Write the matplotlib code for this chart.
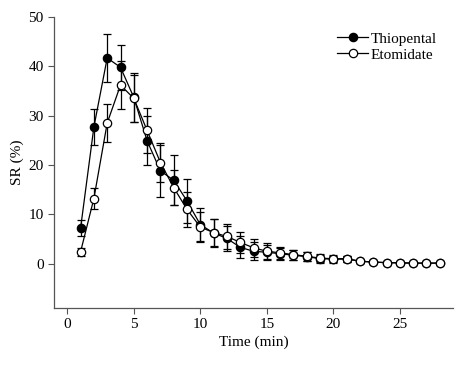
import numpy as np
import matplotlib.pyplot as plt

plt.rcParams['font.family'] = ['Liberation Serif', 'DejaVu Serif']

# time points (min)
time = np.arange(1, 29)

thiopental = [7.2, 27.7, 41.7, 39.8, 33.7, 24.9, 18.8, 16.9, 12.7, 7.9,
              6.2, 5.1, 3.3, 2.5, 2.3, 2.0, 1.7, 1.4, 1.0, 0.9,
              0.9, 0.5, 0.3, 0.2, 0.1, 0.1, 0.1, 0.1]
thiopental_err = [1.7, 3.6, 4.9, 4.6, 4.9, 5.0, 5.2, 5.1, 4.4, 3.3,
                  2.8, 2.6, 2.2, 1.8, 1.5, 1.2, 1.0, 0.9, 0.8, 0.7,
                  0.6, 0.3, 0.2, 0.1, 0.1, 0.1, 0.1, 0.1]

etomidate = [2.4, 13.2, 28.5, 36.2, 33.5, 27.0, 20.5, 15.4, 11.0, 7.4,
             6.3, 5.5, 4.3, 3.2, 2.5, 2.2, 1.8, 1.5, 1.1, 1.0,
             1.0, 0.5, 0.3, 0.2, 0.2, 0.1, 0.1, 0.1]
etomidate_err = [0.8, 2.2, 3.8, 4.8, 4.8, 4.5, 4.0, 3.6, 3.6, 3.0,
                 2.8, 2.6, 2.1, 1.8, 1.6, 1.2, 1.0, 0.9, 0.8, 0.7,
                 0.6, 0.3, 0.2, 0.1, 0.1, 0.1, 0.1, 0.1]

fig = plt.figure(figsize=(4.69, 3.66), dpi=100)
ax = fig.add_axes([0.1151, 0.1585, 0.851, 0.795])

ax.errorbar(time, thiopental, yerr=thiopental_err, color='black', lw=0.9,
            marker='o', ms=6, mfc='black', mec='black', mew=0.9,
            capsize=3.2, elinewidth=0.9, capthick=0.9, label='Thiopental', zorder=2)
ax.errorbar(time, etomidate, yerr=etomidate_err, color='black', lw=0.9,
            marker='o', ms=6, mfc='white', mec='black', mew=0.9,
            capsize=3.2, elinewidth=0.9, capthick=0.9, label='Etomidate', zorder=3)

ax.set_xlim(-1, 29)
ax.set_ylim(-9, 50)
ax.set_xticks([0, 5, 10, 15, 20, 25])
ax.set_yticks([0, 10, 20, 30, 40, 50])

for side in ['top', 'right']:
    ax.spines[side].set_visible(False)
for side in ['left', 'bottom']:
    ax.spines[side].set_color('#555555')
    ax.spines[side].set_linewidth(0.9)
ax.tick_params(colors='#555555', labelcolor='black', labelsize=11, length=4, width=0.8)

ax.set_xlabel('Time (min)', fontsize=11, labelpad=3)
ax.set_ylabel('SR (%)', fontsize=11, labelpad=3)

handles, labels = ax.get_legend_handles_labels()
handles = [h[0] for h in handles]
ax.legend(handles, labels, loc='upper right', bbox_to_anchor=(0.975, 0.97),
          frameon=False, fontsize=11, handlelength=2.0, handletextpad=0.2,
          labelspacing=0.15, borderaxespad=0)

fig.savefig('out.png', dpi=100)
